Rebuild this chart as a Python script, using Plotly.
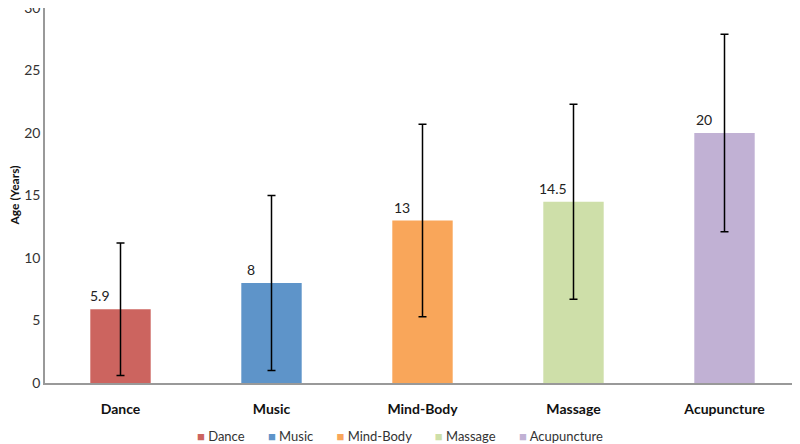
import plotly.graph_objects as go

categories = ["Dance", "Music", "Mind-Body", "Massage", "Acupuncture"]
mean_age = [5.9, 8, 13, 14.5, 20]
sd_age = [5.3, 7.0, 7.7, 7.8, 7.9]
value_labels = ["5.9", "8", "13", "14.5", "20"]
colors = ["#CC645F", "#5E94C9", "#F9A65A", "#CEDFA9", "#C1B1D4"]
y_title = "Age (Years)"

FONT = "Lato, Open Sans, sans-serif"

fig = go.Figure()
for cat, m, sd, col in zip(categories, mean_age, sd_age, colors):
    fig.add_trace(go.Bar(
        x=[cat], y=[m], name=cat, marker_color=col, marker_line_width=0,
        showlegend=False,
        error_y=dict(type="data", array=[sd], visible=True, color="black",
                     thickness=1.5, width=4),
    ))

for cat, m, lab in zip(categories, mean_age, value_labels):
    fig.add_annotation(x=cat, y=m, text=lab, showarrow=False, xanchor="center",
                       yanchor="bottom", xshift=-21, yshift=3,
                       font=dict(size=14, color="#222"))

# legend drawn as a compact row of coloured squares + names (like the source)
gap = "&nbsp;" * 7
legend_text = gap.join(
    f"<span style='color:{c}'>■</span>&nbsp;{n}" for n, c in zip(categories, colors)
)
fig.add_annotation(xref="paper", yref="paper", x=(400 - 45) / 755, y=-(436 - 383) / 375,
                   xanchor="center", yanchor="middle", showarrow=False,
                   text=legend_text, font=dict(size=13, color="#333", family=FONT))

# y axis title
fig.add_annotation(xref="paper", yref="paper", x=0, xshift=-31, y=0.5,
                   xanchor="center", yanchor="middle", showarrow=False, textangle=-90,
                   text=f"<b>{y_title}</b>", font=dict(size=12, color="#111", family=FONT))

fig.update_layout(
    width=792, height=436,
    margin=dict(l=37, r=0, t=0, b=61, autoexpand=False),
    plot_bgcolor="white", paper_bgcolor="white",
    barmode="overlay", bargap=0.6,
    font=dict(family=FONT, color="#333"),
    showlegend=False,
)
fig.update_xaxes(showline=True, linecolor="#999", linewidth=1.5, ticks="",
                 tickfont=dict(size=14, color="#111"),
                 showgrid=False, automargin=False, ticklabelstandoff=12,
                 ticktext=["<b>" + c + "</b>" for c in categories], tickvals=categories)
fig.update_yaxes(range=[0, 30], dtick=5, showline=True, linecolor="#999", linewidth=1.5,
                 showgrid=False, ticks="", zeroline=False, automargin=False,
                 ticklabeloverflow="allow",
                 tickfont=dict(size=14, color="#333"), ticklabelstandoff=0)

fig.write_html("out.html")
